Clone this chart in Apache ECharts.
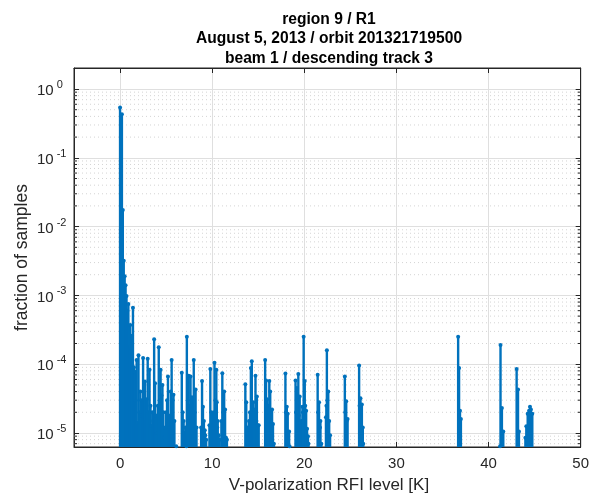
<!DOCTYPE html>
<html><head><meta charset="utf-8">
<script src="https://cdn.jsdelivr.net/npm/echarts@6/dist/echarts.min.js"></script>
<style>html,body{margin:0;padding:0;background:#fff}#c{width:592px;height:494px}</style>
</head><body><div id="c"></div>
<script>
const titleLines = ['region 9 / R1', 'August 5, 2013 / orbit 201321719500', 'beam 1 / descending track 3'];
const xAxisTitle = 'V-polarization RFI level [K]';
const yAxisTitle = 'fraction of samples';
const xTickValues = [0, 10, 20, 30, 40, 50];
const yTickExponents = [-5, -4, -3, -2, -1, 0];
const yMinorMantissas = [2, 3, 4, 5, 6, 7, 8, 9];

const rfiLevel = [
  0.0, 0.2, 0.3, 0.4, 0.5, 0.6, 0.7, 0.8, 0.9, 1.0,
  1.1, 1.2, 1.3, 1.4, 1.5, 1.6, 1.7, 1.8, 1.9, 2.0,
  2.1, 2.2, 2.3, 2.4, 2.5, 2.6, 2.7, 2.8, 2.9, 3.0,
  3.1, 3.2, 3.3, 3.4, 3.5, 3.6, 3.7, 3.8, 3.9, 4.0,
  4.1, 4.2, 4.3, 4.4, 4.5, 4.6, 4.7, 4.8, 4.9, 5.0,
  5.1, 5.2, 5.3, 5.4, 5.5, 5.6, 5.7, 5.8, 5.9, 6.1,
  6.7, 6.8, 6.9, 7.0, 7.1, 7.2, 7.25, 7.35, 7.45, 7.55, 7.65, 7.7, 7.8, 7.9, 8.0, 8.1, 8.2, 8.3,
  8.8, 8.9, 9.0, 9.1, 9.2, 9.25, 9.35,
  9.7, 9.8, 9.9, 10.0, 10.1, 10.2, 10.25, 10.35, 10.4, 10.45, 10.5, 10.55, 10.6, 10.7, 10.8,
  11.0, 11.1, 11.2, 11.3, 11.4, 11.5, 11.6,
  13.6, 13.7, 13.8, 13.9, 14.0, 14.1, 14.2, 14.3, 14.4, 14.45, 14.55, 14.65, 14.7, 14.8, 14.85, 14.95, 15.05,
  15.75, 15.85, 15.95, 16.05, 16.1, 16.2, 16.3, 16.4, 16.5, 16.6, 16.7,
  17.95, 18.0, 18.1, 18.2, 18.35, 18.4,
  19.05, 19.1, 19.2, 19.35, 19.4, 19.5, 19.6, 19.7, 19.8, 19.85, 19.93, 20.05, 20.1, 20.2, 20.3, 20.4, 20.45,
  21.45, 21.5, 21.6, 21.7, 21.75, 21.85,
  22.35, 22.4, 22.45, 22.5, 22.6, 22.7, 22.8,
  24.4, 24.45, 24.55, 24.6, 24.7,
  25.95, 26.0, 26.1, 26.25, 26.35, 26.4,
  36.7, 36.8, 36.9, 37.0,
  41.25, 41.3, 41.45, 41.6,
  43.05, 43.2, 43.3,
  44.0, 44.1, 44.25, 44.4, 44.5, 44.6, 44.75
];
const fraction = [
  0.54, 0.43, 0.0174, 0.0032, 0.0019, 0.0014, 0.00098, 0.0006, 0.00075, 0.0002,
  0.00037, 0.00017, 0.00026, 0.00066, 0.00009, 0.000078, 0.00003, 0.000115, 0.000014, 0.000135,
  0.00002, 0.00004, 0.00003, 0.000018, 0.000123, 0.00003, 0.000056, 0.000016, 0.000031, 0.00012,
  0.00002, 0.000083, 0.000025, 0.0000126, 0.00002, 0.000015, 0.00023, 0.000053, 0.000018, 0.00001,
  0.000025, 0.000177, 0.00003, 0.000083, 0.000035, 0.00005, 0.00002, 0.0000085, 0.000012, 0.00002,
  0.00003, 0.000066, 0.000018, 0.000012, 0.00004, 0.000115, 0.00003, 0.000036, 0.000015, 0.0000064,
  0.000075, 0.00002, 0.000015, 0.00001, 0.000012, 0.0000064, 0.00025, 0.00003, 0.000068, 0.000025, 0.000066, 0.000015, 0.000033, 0.00002, 0.000115, 0.00002, 0.000043, 0.000012,
  0.000012, 0.000057, 0.000024, 0.000015, 0.000011, 0.0000093, 0.000008,
  0.000013, 0.000085, 0.00002, 0.000019, 0.000015, 0.00002, 0.000105, 0.00003, 0.000018, 0.000083, 0.000028, 0.000012, 0.000015, 0.0000093, 0.000008,
  0.000015, 0.000074, 0.00002, 0.00004, 0.000022, 0.0000085, 0.000008,
  0.000051, 0.000028, 0.000012, 0.0000096, 0.000015, 0.00002, 0.000088, 0.00011, 0.00002, 0.000028, 0.000022, 0.000015, 0.000068, 0.000015, 0.000034, 0.000013, 0.000013,
  0.000115, 0.000058, 0.000031, 0.00002, 0.000025, 0.000057, 0.00004, 0.000015, 0.000022, 0.0000135, 0.000007,
  0.000073, 0.00002, 0.000024, 0.000019, 0.0000105, 0.0000064,
  0.000058, 0.00002, 0.000045, 0.000072, 0.000018, 0.000034, 0.000014, 0.000015, 0.000024, 0.00002, 0.00025, 0.000057, 0.000025, 0.000021, 0.0000115, 0.000009, 0.000007,
  0.00007, 0.00002, 0.000028, 0.000012, 0.000015, 0.000007,
  0.000017, 0.000025, 0.00016, 0.00003, 0.00004, 0.000015, 0.0000093,
  0.000066, 0.00002, 0.000029, 0.000015, 0.000016,
  0.000096, 0.000025, 0.000032, 0.000026, 0.000012, 0.000007,
  0.00025, 0.000088, 0.000021, 0.000016,
  0.0000064, 0.00019, 0.000023, 0.0000105,
  0.000085, 0.000043, 0.0000105,
  0.0000085, 0.0000125, 0.000019, 0.000021, 0.000024, 0.000022, 0.000019
];

const yMin = 6.26e-6, yMax = 2.02;
const stemColor = '#0072BD';
const axisColor = '#262626';
const font = 'Liberation Sans, Arial, Helvetica, sans-serif';

const minorValues = [];
for (let e = -6; e <= 0; e++) {
  yMinorMantissas.forEach(m => {
    const v = m * Math.pow(10, e);
    if (v > yMin * 1.05 && v < yMax * 0.95) minorValues.push([0, v]);
  });
}
const stemData = rfiLevel.map((x, i) => [x, fraction[i]]);

const chart = echarts.init(document.getElementById('c'), null, {renderer: 'canvas'});

function yLabel(v) {
  const e = Math.log10(v);
  const r = Math.round(e);
  if (Math.abs(e - r) > 0.01 || yTickExponents.indexOf(r) < 0) return '';
  return '{b|10}{e|' + r + '}';
}

const gridLeft = 74, gridRight = 8, gridTop = 68, gridBottom = 47;
const plotCx = (gridLeft + (592 - gridRight)) / 2;
const plotCy = (gridTop + (494 - gridBottom)) / 2;

chart.setOption({
  animation: false,
  backgroundColor: '#fff',
  grid: {left: gridLeft, right: gridRight, top: gridTop, bottom: gridBottom, show: true, borderColor: axisColor, borderWidth: 1, backgroundColor: 'transparent'},
  graphic: titleLines.map((t, i) => ({
    type: 'text', x: plotCx, y: 19.5 + i * 19.5,
    style: {text: t, font: 'bold 15.6px ' + font, fill: '#000', align: 'center', verticalAlign: 'middle'}
  })).concat([{
    type: 'text', x: plotCx, y: 485,
    style: {text: xAxisTitle, font: '17px ' + font, fill: axisColor, align: 'center', verticalAlign: 'middle'}
  }, {
    type: 'text', x: 22, y: plotCy, rotation: Math.PI / 2,
    style: {text: yAxisTitle, font: '17.5px ' + font, fill: axisColor, align: 'center', verticalAlign: 'middle'}
  }]),
  xAxis: [{
    type: 'value', min: -5, max: 50, minInterval: 10, maxInterval: 10,
    axisLine: {show: true, onZero: false, lineStyle: {color: axisColor}},
    axisTick: {show: true, inside: true, length: 5, lineStyle: {color: axisColor}},
    axisLabel: {margin: 9, fontSize: 15, color: axisColor, fontFamily: font,
      formatter: v => xTickValues.indexOf(v) >= 0 ? String(v) : ''},
    splitLine: {show: true, lineStyle: {color: '#dfdfdf', width: 1}}
  }, {
    type: 'value', position: 'top', min: -5, max: 50, minInterval: 10, maxInterval: 10,
    axisLine: {show: true, onZero: false, lineStyle: {color: axisColor}},
    axisTick: {show: true, inside: true, length: 5, lineStyle: {color: axisColor}},
    axisLabel: {show: false}, splitLine: {show: false}
  }],
  yAxis: [{
    type: 'log', logBase: 10, min: yMin, max: yMax,
    axisLine: {show: true, onZero: false, lineStyle: {color: axisColor}},
    axisTick: {show: true, inside: true, length: 5, lineStyle: {color: axisColor}},
    axisLabel: {margin: 37, align: 'left', color: axisColor, fontFamily: font, formatter: yLabel,
      rich: {
        b: {fontSize: 15, fontFamily: font, color: axisColor, lineHeight: 19, verticalAlign: 'bottom', padding: [4, 0, 0, 0]},
        e: {fontSize: 11, fontFamily: font, color: axisColor, lineHeight: 11, verticalAlign: 'top', padding: [0, 0, 0, 3]}
      }},
    splitLine: {show: true, lineStyle: {color: '#dfdfdf', width: 1}}
  }, {
    type: 'log', logBase: 10, min: yMin, max: yMax, position: 'right',
    axisLine: {show: true, onZero: false, lineStyle: {color: axisColor}},
    axisTick: {show: true, inside: true, length: 5, lineStyle: {color: axisColor}},
    axisLabel: {show: false}, splitLine: {show: false}
  }],
  series: [{
    type: 'custom', name: 'minorGrid', z: 1, silent: true,
    xAxisIndex: 0, yAxisIndex: 0,
    data: minorValues,
    renderItem: function (params, api) {
      const cs = params.coordSys;
      const y = api.coord([0, api.value(1)])[1];
      return {type: 'group', children: [
        {type: 'line', shape: {x1: cs.x, y1: y, x2: cs.x + cs.width, y2: y},
          style: {stroke: '#d4d4d4', lineWidth: 1, lineDash: [1, 3]}},
        {type: 'line', shape: {x1: cs.x, y1: y, x2: cs.x + 3, y2: y}, style: {stroke: axisColor, lineWidth: 1}},
        {type: 'line', shape: {x1: cs.x + cs.width - 3, y1: y, x2: cs.x + cs.width, y2: y}, style: {stroke: axisColor, lineWidth: 1}}
      ]};
    }
  }, {
    type: 'custom', name: 'stem', z: 3, silent: true,
    xAxisIndex: 0, yAxisIndex: 0,
    data: stemData,
    renderItem: function (params, api) {
      const cs = params.coordSys;
      const p = api.coord([api.value(0), api.value(1)]);
      const bottom = cs.y + cs.height;
      return {type: 'group', children: [
        {type: 'line', shape: {x1: p[0], y1: bottom, x2: p[0], y2: p[1]}, style: {stroke: stemColor, lineWidth: 2.4}},
        {type: 'circle', shape: {cx: p[0], cy: p[1], r: 2}, style: {fill: stemColor}}
      ]};
    }
  }]
});
</script></body></html>
